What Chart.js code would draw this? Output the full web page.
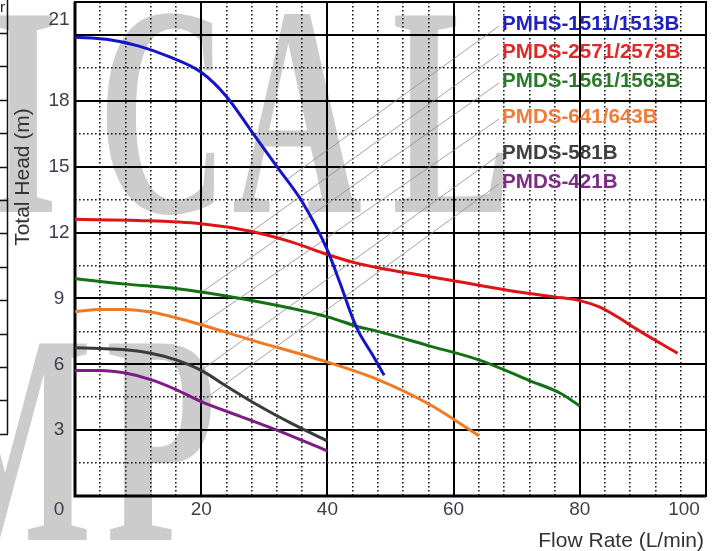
<!DOCTYPE html>
<html><head><meta charset="utf-8">
<script src="https://cdn.jsdelivr.net/npm/chart.js@4.4.1/dist/chart.umd.min.js"></script>
<style>html,body{margin:0;padding:0;background:#fff;overflow:hidden}</style>
</head><body>
<canvas id="c" width="712" height="551"></canvas>
<script>
// ---------- data ----------
const seriesNames = ['PMHS-1511/1513B','PMDS-2571/2573B','PMDS-1561/1563B','PMDS-641/643B','PMDS-581B','PMDS-421B'];
const lineColors  = ['#1414c8','#e01414','#127212','#f07a22','#3a3a3a','#7c1c84'];
const labelColors = ['#2020c4','#e02828','#2a7a2a','#f07c38','#404040','#7e2a86'];

const blueFlow   = [0,5,10,15,20,24,28,32,36,40,42,44,45,47,49];
const blueHead   = [20.9,20.8,20.5,20.0,19.3,18.2,16.6,15.0,13.4,11.2,9.7,8.1,7.45,6.5,5.5];
const redFlow    = [0,10,20,28,34,40,44,48,56,60,70,76,80,83,86,89,92,95.5];
const redHead    = [12.6,12.55,12.4,12.05,11.6,11.0,10.65,10.4,10.0,9.8,9.3,9.07,8.9,8.62,8.15,7.6,7.08,6.5];
const greenFlow  = [0,8,16,28,40,45,48,56,64,72,77,80];
const greenHead  = [9.9,9.65,9.45,8.9,8.16,7.7,7.5,6.85,6.2,5.26,4.67,4.1];
const orangeFlow = [0,4,8,12,16,20,28,40,48,56,64];
const orangeHead = [8.4,8.5,8.5,8.38,8.12,7.8,7.1,6.1,5.3,4.2,2.75];
const blackFlow  = [0,4,8,12,16,20,24,29,34,40];
const blackHead  = [6.75,6.72,6.66,6.5,6.2,5.72,5.0,4.13,3.35,2.5];
const purpleFlow = [0,4,8,12,16,20,26,32,40];
const purpleHead = [5.72,5.72,5.6,5.3,4.85,4.3,3.65,3.0,2.05];

const seriesFlow = [blueFlow,redFlow,greenFlow,orangeFlow,blackFlow,purpleFlow];
const seriesHead = [blueHead,redHead,greenHead,orangeHead,blackHead,purpleHead];
const leaderFromFlow = [33.5,28,20,20,20,20];

const flowMajor = [0,20,40,60,80,100];
const flowMinor = [4,8,12,16,24,28,32,36,44,48,52,56,64,68,72,76,84,88,92,96];
const headMajor = [0,3,6,9,12,15,18,21,22.5];
const headMinor = [1.5,4.5,7.5,10.5,13.5,16.5,19.5];
const flowLabels = ['20','40','60','80','100'];
const headLabels = ['0','3','6','9','12','15','18','21'];
const xTitle = 'Flow Rate (L/min)';
const yTitle = 'Total Head (m)';

// ---------- helpers ----------
function interp(xs, ys, x){
  for(let i=0;i<xs.length-1;i++){
    if(x>=xs[i] && x<=xs[i+1]){const t=(x-xs[i])/(xs[i+1]-xs[i]);return ys[i]+t*(ys[i+1]-ys[i]);}
  }
  return ys[ys.length-1];
}

const datasets = seriesNames.map((n,i)=>({
  label:n,
  data: seriesFlow[i].map((x,j)=>({x:x,y:seriesHead[i][j]})),
  borderColor: lineColors[i],
  borderWidth: 3,
  pointRadius: 0,
  cubicInterpolationMode:'monotone',
  fill:false,
  xAxisID:'x', yAxisID:'y'
}));

const legendY=[24,52,81,117,153,182];

const backdrop = {
  id:'backdrop',
  beforeDraw(chart){
    const ctx = chart.ctx;
    ctx.save();
    ctx.fillStyle='#ffffff'; ctx.fillRect(0,0,chart.width,chart.height);
    // watermark letters
    ctx.fillStyle='#cccccc';
    ctx.font='bold 300px "Liberation Serif"';
    ctx.textBaseline='alphabetic'; ctx.textAlign='left';
    const wm=[['I',-12,212],['C',98,212],['A',232,212],['L',392,212],['M',-78,540],['P',106,540]];
    wm.forEach(g=>{ctx.save();ctx.translate(g[1],g[2]);ctx.scale(0.6,1);ctx.fillText(g[0],0,0);ctx.restore();});
    // remnant table at left edge
    ctx.strokeStyle='#111'; ctx.lineWidth=1.5;
    ctx.beginPath(); ctx.moveTo(7.5,0); ctx.lineTo(7.5,434);
    for(let k=0;k<13;k++){const yy=Math.round(33+k*33.4)+0.5; ctx.moveTo(0,yy); ctx.lineTo(8,yy);}
    ctx.stroke();
    ctx.fillStyle='#222'; ctx.font='15px "Liberation Sans"'; ctx.fillText('r',0,12);
    ctx.restore();
  },
  beforeDatasetsDraw(chart){
    const ctx=chart.ctx, xs=chart.scales.x, ys=chart.scales.y;
    ctx.save();
    // leader lines from curves to labels
    ctx.strokeStyle='rgba(140,140,140,0.8)'; ctx.lineWidth=1;
    seriesNames.forEach((n,i)=>{
      const fx=leaderFromFlow[i];
      const px=xs.getPixelForValue(fx), py=ys.getPixelForValue(interp(seriesFlow[i],seriesHead[i],fx));
      ctx.beginPath(); ctx.moveTo(px,py); ctx.lineTo(499,legendY[i]+2); ctx.stroke();
    });
    // frame
    const a=chart.chartArea;
    ctx.strokeStyle='#000';
    ctx.lineWidth=2; ctx.strokeRect(a.left,a.top,a.right-a.left,a.bottom-a.top);
    ctx.lineWidth=3;
    ctx.beginPath(); ctx.moveTo(a.left,a.top); ctx.lineTo(a.left,a.bottom); ctx.lineTo(a.right,a.bottom); ctx.stroke();
    ctx.restore();
  }
};

const texts = {
  id:'texts',
  afterDraw(chart){
    const ctx=chart.ctx, xs=chart.scales.x, ys=chart.scales.y;
    ctx.save();
    ctx.fillStyle='#3d3d4d';
    ctx.font='19px "Liberation Sans"';
    ctx.textAlign='center'; ctx.textBaseline='middle';
    headLabels.forEach(l=>{
      const v=parseFloat(l); let y=ys.getPixelForValue(v);
      if(l==='21') y-=15; if(l==='0') y+=14;
      ctx.fillText(l,59,y);
    });
    flowLabels.forEach(l=>{
      const v=parseFloat(l); let x=xs.getPixelForValue(v);
      if(l==='100') x-=22;
      ctx.fillText(l,x,510);
    });
    ctx.fillStyle='#333';
    ctx.font='21px "Liberation Sans"';
    ctx.textAlign='right';
    ctx.fillText(xTitle,704,541);
    ctx.save(); ctx.translate(23,177); ctx.rotate(-Math.PI/2);
    ctx.font='21px "Liberation Sans"'; ctx.textAlign='center'; ctx.fillText(yTitle,0,0); ctx.restore();
    // legend labels
    ctx.font='bold 20.6px "Liberation Sans"'; ctx.textAlign='left';
    seriesNames.forEach((n,i)=>{ctx.fillStyle=labelColors[i]; ctx.fillText(n,502,legendY[i]);});
    ctx.restore();
  }
};

function fixTicks(list){return function(s){s.ticks=list.map(v=>({value:v}));};}

new Chart(document.getElementById('c'),{
  type:'line',
  data:{datasets:datasets},
  options:{
    responsive:false, animation:false, devicePixelRatio:1,
    layout:{padding:{left:75,right:6,top:2,bottom:55}},
    plugins:{legend:{display:false},tooltip:{enabled:false}},
    scales:{
      xm:{type:'linear',axis:'x',position:'bottom',min:0,max:100,
        afterBuildTicks:fixTicks(flowMinor),
        ticks:{display:false},grid:{color:'#1a1a1a',lineWidth:1.6,drawTicks:false},
        border:{display:false,dash:[1.6,2.4]}},
      ym:{type:'linear',axis:'y',position:'left',min:0,max:22.5,
        afterBuildTicks:fixTicks(headMinor),
        ticks:{display:false},grid:{color:'#1a1a1a',lineWidth:1.6,drawTicks:false},
        border:{display:false,dash:[1.6,2.4]}},
      x:{type:'linear',position:'bottom',min:0,max:100,
        afterBuildTicks:fixTicks(flowMajor),
        ticks:{display:false},grid:{color:'#000',lineWidth:2,drawTicks:false},
        border:{display:false}},
      y:{type:'linear',position:'left',min:0,max:22.5,
        afterBuildTicks:fixTicks(headMajor),
        ticks:{display:false},grid:{color:'#000',lineWidth:2,drawTicks:false},
        border:{display:false}}
    }
  },
  plugins:[backdrop,texts]
});
</script>
</body></html>
